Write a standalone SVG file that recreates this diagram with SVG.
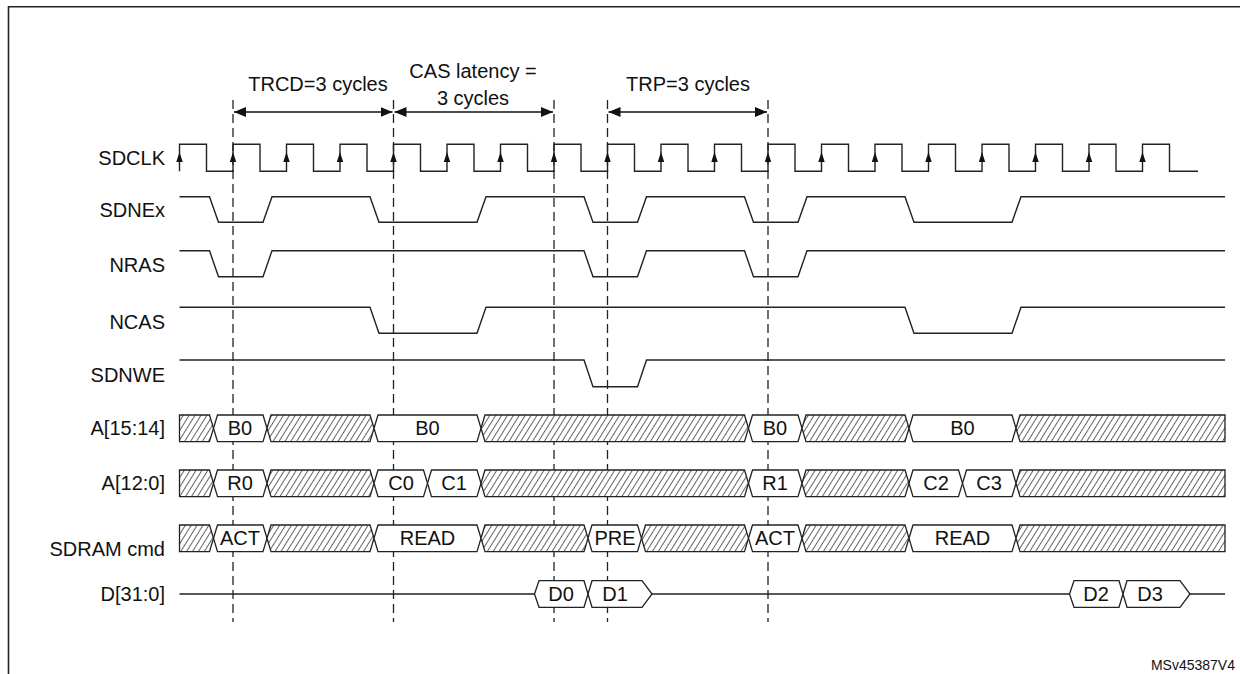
<svg xmlns="http://www.w3.org/2000/svg" width="1240" height="674" viewBox="0 0 1240 674">
<style>
text{font-family:"Liberation Sans",Arial,sans-serif;font-size:20px;fill:#111}
.lbl{text-anchor:end}
.c{text-anchor:middle}
.w{fill:none;stroke:#222;stroke-width:1.4}
.box{fill:#fff;stroke:#222;stroke-width:1.3}
.hat{fill:url(#hatch);stroke:#222;stroke-width:1.3}
.dash{stroke:#222;stroke-width:1.3;stroke-dasharray:9,5;fill:none}
.dim{stroke:#111;stroke-width:1.5;fill:none}
</style>
<defs>
<pattern id="hatch" patternUnits="userSpaceOnUse" width="5" height="5" patternTransform="rotate(32)">
<rect width="5" height="5" fill="#fff"/><line x1="0" y1="0" x2="0" y2="5" stroke="#222" stroke-width="1.4"/>
</pattern>
<polygon id="ca" points="0,-9 -3.2,1 3.2,1" fill="#111"/>
<marker id="ah" viewBox="0 0 12 10" refX="12" refY="5" markerWidth="12" markerHeight="10" markerUnits="userSpaceOnUse" orient="auto-start-reverse"><path d="M0,0 L12,5 L0,10 Z" fill="#111"/></marker>
</defs>
<rect width="1240" height="674" fill="#fff"/>
<path d="M8.5,674 V6.7 H1240" fill="none" stroke="#222" stroke-width="1.6"/>

<g id="labels">
<text class="lbl" x="165" y="165">SDCLK</text>
<text class="lbl" x="165" y="217">SDNEx</text>
<text class="lbl" x="165" y="272">NRAS</text>
<text class="lbl" x="165" y="329">NCAS</text>
<text class="lbl" x="165" y="382">SDNWE</text>
<text class="lbl" x="165" y="435">A[15:14]</text>
<text class="lbl" x="165" y="490">A[12:0]</text>
<text class="lbl" x="165" y="556">SDRAM cmd</text>
<text class="lbl" x="165" y="601">D[31:0]</text>
</g>

<g id="connectors">
<line class="dash" x1="233" y1="100" x2="233" y2="622"/>
<line class="dash" x1="393.5" y1="100" x2="393.5" y2="622"/>
<line class="dash" x1="554" y1="100" x2="554" y2="622"/>
<line class="dash" x1="607.5" y1="100" x2="607.5" y2="622"/>
<line class="dash" x1="768" y1="100" x2="768" y2="622"/>
<line class="dim" x1="234" y1="112" x2="392.5" y2="112" marker-start="url(#ah)" marker-end="url(#ah)"/>
<line class="dim" x1="394.5" y1="112" x2="553" y2="112" marker-start="url(#ah)" marker-end="url(#ah)"/>
<line class="dim" x1="608.5" y1="112" x2="767" y2="112" marker-start="url(#ah)" marker-end="url(#ah)"/>
</g>
<g id="dim-labels">
<text class="c" x="318" y="91">TRCD=3 cycles</text>
<text class="c" x="473" y="78">CAS latency =</text>
<text class="c" x="473" y="105">3 cycles</text>
<text class="c" x="688" y="91">TRP=3 cycles</text>
</g>

<g id="sdclk">
<path class="w" d="M179.5,171.3 V144.3 H206.5 V171.3 H233 V144.3 H260 V171.3 H286.5 V144.3 H313.5 V171.3 H340 V144.3 H367 V171.3 H393.5 V144.3 H420.5 V171.3 H447 V144.3 H474 V171.3 H500.5 V144.3 H527.5 V171.3 H554 V144.3 H581 V171.3 H607.5 V144.3 H634.5 V171.3 H661 V144.3 H688 V171.3 H714.5 V144.3 H741.5 V171.3 H768 V144.3 H795 V171.3 H821.5 V144.3 H848.5 V171.3 H875 V144.3 H902 V171.3 H928.5 V144.3 H955.5 V171.3 H982 V144.3 H1009 V171.3 H1035.5 V144.3 H1062.5 V171.3 H1089 V144.3 H1116 V171.3 H1142.5 V144.3 H1169.5 V171.3 H1198"/>
<use href="#ca" x="179.5" y="161"/><use href="#ca" x="233" y="161"/><use href="#ca" x="286.5" y="161"/><use href="#ca" x="340" y="161"/><use href="#ca" x="393.5" y="161"/><use href="#ca" x="447" y="161"/><use href="#ca" x="500.5" y="161"/><use href="#ca" x="554" y="161"/><use href="#ca" x="607.5" y="161"/><use href="#ca" x="661" y="161"/><use href="#ca" x="714.5" y="161"/><use href="#ca" x="768" y="161"/><use href="#ca" x="821.5" y="161"/><use href="#ca" x="875" y="161"/><use href="#ca" x="928.5" y="161"/><use href="#ca" x="982" y="161"/><use href="#ca" x="1035.5" y="161"/><use href="#ca" x="1089" y="161"/><use href="#ca" x="1142.5" y="161"/>
</g>
<g id="sdnex"><path class="w" d="M179.5,196.7 H209.5 L218.5,222.3 H263 L272,196.7 H370 L379,222.3 H477 L486,196.7 H584 L593,222.3 H637.5 L646.5,196.7 H744.5 L753.5,222.3 H798 L807,196.7 H905 L914,222.3 H1012 L1021,196.7 H1225"/></g>
<g id="nras"><path class="w" d="M179.5,250.7 H209.5 L218.5,276.7 H263 L272,250.7 H584 L593,276.7 H637.5 L646.5,250.7 H744.5 L753.5,276.7 H798 L807,250.7 H1225"/></g>
<g id="ncas"><path class="w" d="M179.5,307.3 H370 L379,333.3 H477 L486,307.3 H905 L914,333.3 H1012 L1021,307.3 H1225"/></g>
<g id="sdnwe"><path class="w" d="M179.5,360 H584 L593,386.7 H637.5 L646.5,360 H1225"/></g>

<g id="a15">
<polygon class="hat" points="179.5,415 209.5,415 213.5,428.3 209.5,441.7 179.5,441.7"/>
<polygon class="box" points="213.5,428.3 217.5,415 263,415 267,428.3 263,441.7 217.5,441.7"/>
<polygon class="hat" points="267,428.3 271,415 370,415 374,428.3 370,441.7 271,441.7"/>
<polygon class="box" points="374,428.3 378,415 477,415 481,428.3 477,441.7 378,441.7"/>
<polygon class="hat" points="481,428.3 485,415 744.5,415 748.5,428.3 744.5,441.7 485,441.7"/>
<polygon class="box" points="748.5,428.3 752.5,415 798,415 802,428.3 798,441.7 752.5,441.7"/>
<polygon class="hat" points="802,428.3 806,415 905,415 909,428.3 905,441.7 806,441.7"/>
<polygon class="box" points="909,428.3 913,415 1012,415 1016,428.3 1012,441.7 913,441.7"/>
<polygon class="hat" points="1016,428.3 1020,415 1225,415 1225,441.7 1020,441.7"/>
<text class="c" x="240" y="435">B0</text><text class="c" x="427.5" y="435">B0</text><text class="c" x="775" y="435">B0</text><text class="c" x="962.5" y="435">B0</text>
</g>
<g id="a12">
<polygon class="hat" points="179.5,470 209.5,470 213.5,483.3 209.5,496.7 179.5,496.7"/>
<polygon class="box" points="213.5,483.3 217.5,470 263,470 267,483.3 263,496.7 217.5,496.7"/>
<polygon class="hat" points="267,483.3 271,470 370,470 374,483.3 370,496.7 271,496.7"/>
<polygon class="box" points="374,483.3 378,470 423.5,470 427.5,483.3 423.5,496.7 378,496.7"/>
<polygon class="box" points="427.5,483.3 431.5,470 477,470 481,483.3 477,496.7 431.5,496.7"/>
<polygon class="hat" points="481,483.3 485,470 744.5,470 748.5,483.3 744.5,496.7 485,496.7"/>
<polygon class="box" points="748.5,483.3 752.5,470 798,470 802,483.3 798,496.7 752.5,496.7"/>
<polygon class="hat" points="802,483.3 806,470 905,470 909,483.3 905,496.7 806,496.7"/>
<polygon class="box" points="909,483.3 913,470 958.5,470 962.5,483.3 958.5,496.7 913,496.7"/>
<polygon class="box" points="962.5,483.3 966.5,470 1012,470 1016,483.3 1012,496.7 966.5,496.7"/>
<polygon class="hat" points="1016,483.3 1020,470 1225,470 1225,496.7 1020,496.7"/>
<text class="c" x="240" y="490">R0</text><text class="c" x="401" y="490">C0</text><text class="c" x="454" y="490">C1</text><text class="c" x="775" y="490">R1</text><text class="c" x="936" y="490">C2</text><text class="c" x="989" y="490">C3</text>
</g>
<g id="cmd">
<polygon class="hat" points="179.5,525 209.5,525 213.5,538.3 209.5,551.7 179.5,551.7"/>
<polygon class="box" points="213.5,538.3 217.5,525 263,525 267,538.3 263,551.7 217.5,551.7"/>
<polygon class="hat" points="267,538.3 271,525 370,525 374,538.3 370,551.7 271,551.7"/>
<polygon class="box" points="374,538.3 378,525 477,525 481,538.3 477,551.7 378,551.7"/>
<polygon class="hat" points="481,538.3 485,525 584,525 588,538.3 584,551.7 485,551.7"/>
<polygon class="box" points="588,538.3 592,525 637.5,525 641.5,538.3 637.5,551.7 592,551.7"/>
<polygon class="hat" points="641.5,538.3 645.5,525 744.5,525 748.5,538.3 744.5,551.7 645.5,551.7"/>
<polygon class="box" points="748.5,538.3 752.5,525 798,525 802,538.3 798,551.7 752.5,551.7"/>
<polygon class="hat" points="802,538.3 806,525 905,525 909,538.3 905,551.7 806,551.7"/>
<polygon class="box" points="909,538.3 913,525 1012,525 1016,538.3 1012,551.7 913,551.7"/>
<polygon class="hat" points="1016,538.3 1020,525 1225,525 1225,551.7 1020,551.7"/>
<text class="c" x="240" y="545">ACT</text><text class="c" x="427.5" y="545">READ</text><text class="c" x="615" y="545">PRE</text><text class="c" x="775" y="545">ACT</text><text class="c" x="962.5" y="545">READ</text>
</g>
<g id="data">
<path class="w" d="M179.5,594 H534.5 M652,594 H1069.5 M1190,594 H1225"/>
<polygon class="box" points="534.5,594 539,580.7 584,580.7 588,594 584,607.3 539,607.3"/>
<polygon class="box" points="588,594 592,580.7 642,580.7 652,594 642,607.3 592,607.3"/>
<polygon class="box" points="1069.5,594 1074,580.7 1119,580.7 1123,594 1119,607.3 1074,607.3"/>
<polygon class="box" points="1123,594 1127,580.7 1180,580.7 1190,594 1180,607.3 1127,607.3"/>
<text class="c" x="561" y="601">D0</text><text class="c" x="615" y="601">D1</text><text class="c" x="1096" y="601">D2</text><text class="c" x="1150" y="601">D3</text>
</g>
<text x="1235" y="670" style="text-anchor:end;font-size:14px">MSv45387V4</text>
</svg>
